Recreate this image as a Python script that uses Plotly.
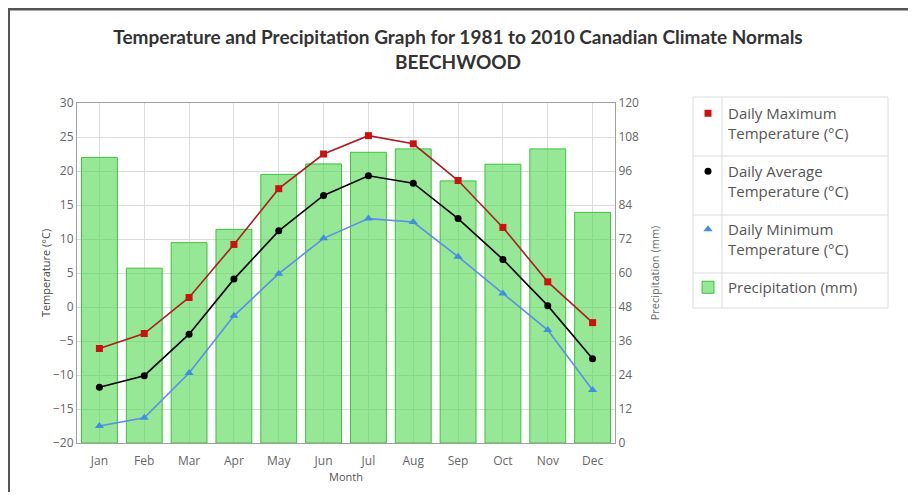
import plotly.graph_objects as go

months = ["Jan", "Feb", "Mar", "Apr", "May", "Jun", "Jul", "Aug", "Sep", "Oct", "Nov", "Dec"]
temp_max = [-6.1, -3.9, 1.4, 9.2, 17.4, 22.5, 25.2, 24.0, 18.6, 11.7, 3.7, -2.3]
temp_avg = [-11.8, -10.1, -4.0, 4.1, 11.2, 16.4, 19.3, 18.2, 13.0, 7.0, 0.2, -7.6]
temp_min = [-17.5, -16.3, -9.7, -1.3, 4.9, 10.1, 13.0, 12.5, 7.4, 2.0, -3.4, -12.2]
precip = [100.8, 61.7, 70.7, 75.4, 94.8, 98.5, 102.6, 103.8, 92.5, 98.4, 103.8, 81.4]

temp_ticks = list(range(-20, 31, 5))
precip_ticks = list(range(0, 121, 12))

# page has an 8px body margin: work in page pixels, convert to figure pixels
OFF = 8
W, H = 916 - 2 * OFF, 500 - 2 * OFF
L, R, T, B = 77 - OFF, 615 - OFF, 103 - OFF, 443 - OFF


def px(x_page):
    return (x_page - OFF - L) / (R - L)


def py(y_page):
    return (B - (y_page - OFF)) / (B - T)


FONT = "Open Sans, sans-serif"

fig = go.Figure()

fig.add_trace(go.Bar(
    x=months, y=precip, name="Precipitation (mm)", yaxis="y",
    marker=dict(color="rgba(80,215,80,0.6)", line=dict(color="rgb(60,195,60)", width=1)),
    width=0.8, legendrank=4, legendgroup="p",
))

series = [
    ("Daily Maximum<br>Temperature (°C)", temp_max, "#a82020", "square", 7, "#cc1111", 1, "a"),
    ("Daily Average<br>Temperature (°C)", temp_avg, "#000000", "circle", 7, "#000000", 2, "b"),
    ("Daily Minimum<br>Temperature (°C)", temp_min, "#5a8ee8", "triangle-up", 8, "#3f8fe0", 3, "c"),
]
# connecting lines (not in legend)
for name, vals, lc, sym, size, mc, rank, grp in series:
    fig.add_trace(go.Scatter(
        x=months, y=vals, name=name, yaxis="y2", mode="lines",
        line=dict(color=lc, width=1.6), showlegend=False, legendgroup=grp, hoverinfo="skip",
    ))
# point markers (legend shows marker only)
for name, vals, lc, sym, size, mc, rank, grp in series:
    fig.add_trace(go.Scatter(
        x=months, y=vals, name=name, yaxis="y2", mode="markers",
        marker=dict(symbol=sym, size=size, color=mc), legendrank=rank, legendgroup=grp,
    ))

grid = "#dcdcdc"
frame = "#a0a0a0"
sep = "#dcdcdc"

shapes = [
    # page frame (top and left edges)
    dict(type="line", xref="paper", yref="paper", x0=px(OFF), x1=px(916), y0=py(OFF + 1), y1=py(OFF + 1),
         line=dict(color="#555", width=3)),
    dict(type="line", xref="paper", yref="paper", x0=px(OFF + 1), x1=px(OFF + 1), y0=py(OFF), y1=py(500),
         line=dict(color="#555", width=2)),
    # legend table: outer box and dividers
    dict(type="rect", xref="paper", yref="paper", x0=px(693), x1=px(888), y0=py(97), y1=py(308),
         line=dict(color=sep, width=1)),
    dict(type="line", xref="paper", yref="paper", x0=px(722), x1=px(722), y0=py(97), y1=py(308),
         line=dict(color=sep, width=1)),
]
for yy in (156, 215, 273):
    shapes.append(dict(type="line", xref="paper", yref="paper", x0=px(693), x1=px(888),
                       y0=py(yy), y1=py(yy), line=dict(color=sep, width=1)))

fig.update_layout(
    width=W, height=H,
    margin=dict(l=L, r=W - R, t=T, b=H - B),
    paper_bgcolor="white", plot_bgcolor="white",
    font=dict(family=FONT, size=12, color="#666"),
    title=dict(
        text="Temperature and Precipitation Graph for 1981 to 2010 Canadian Climate Normals<br>BEECHWOOD",
        x=0.5, xanchor="center", xref="container",
        y=1 - (44 - OFF) / H, yanchor="middle", yref="container",
        font=dict(family="Lato, sans-serif", size=19, color="#333", weight="bold"),
    ),
    xaxis=dict(
        type="category", range=[-0.5, 11.5], showgrid=True, gridcolor=grid,
        showline=True, linecolor=frame, mirror=True,
        ticks="outside", ticklen=7, tickcolor="rgba(0,0,0,0)",
        tickfont=dict(size=12, color="#666"),
        title=dict(text="Month", font=dict(size=11, color="#555"), standoff=2),
    ),
    yaxis=dict(
        side="right", range=[0, 120], tickvals=precip_ticks, showgrid=True, gridcolor=grid,
        showline=True, linecolor=frame, zeroline=False, ticks="",
        tickfont=dict(size=12, color="#666"),
        title=dict(text="Precipitation (mm)", font=dict(size=11, color="#666"), standoff=13),
    ),
    yaxis2=dict(
        overlaying="y", side="left", range=[-20, 30], tickvals=temp_ticks, showgrid=False,
        showline=True, linecolor=frame, zeroline=False, ticks="",
        tickfont=dict(size=12, color="#666"),
        title=dict(text="Temperature (°C)", font=dict(size=11, color="#444"), standoff=0),
    ),
    legend=dict(
        x=px(688), y=py(97), xanchor="left", yanchor="top",
        borderwidth=0, bgcolor="rgba(0,0,0,0)",
        font=dict(family=FONT, size=15, color="#555"),
        valign="top", tracegroupgap=16, traceorder="grouped",
    ),
    bargap=0.2,
    shapes=shapes,
)

fig.write_html("out.html")
